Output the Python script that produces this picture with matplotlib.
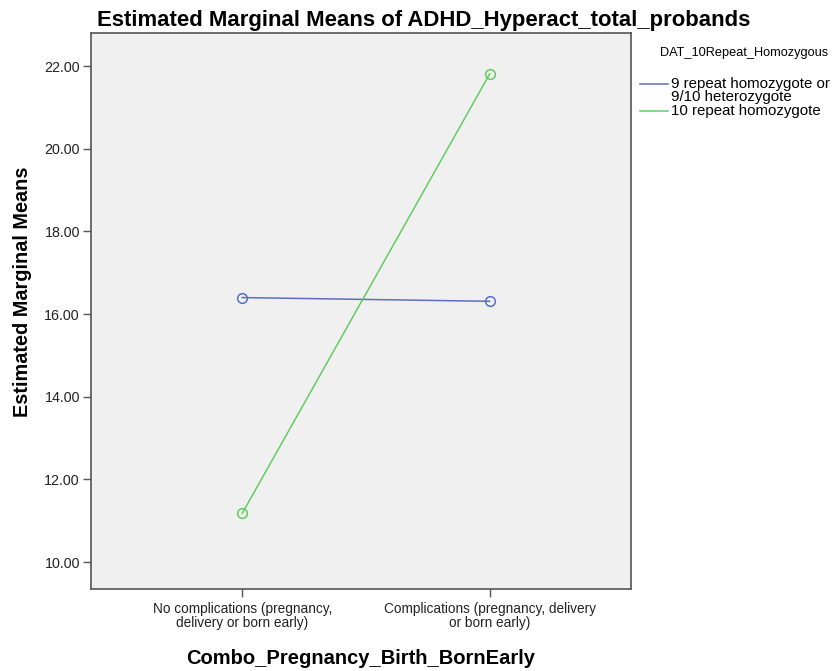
import matplotlib
matplotlib.use("Agg")
import matplotlib.pyplot as plt
from matplotlib.lines import Line2D

plt.rcParams['font.family'] = ['Liberation Sans', 'DejaVu Sans']

# categories on the x axis and the two group means
categories = ['No complications (pregnancy,\ndelivery or born early)',
              'Complications (pregnancy, delivery\nor born early)']
groups = ['9 repeat homozygote or\n9/10 heterozygote', '10 repeat homozygote']
means_9rep = [16.40, 16.31]
means_10rep = [11.18, 21.81]
yticks = [10, 12, 14, 16, 18, 20, 22]

colors = ['#5a6ec4', '#62cc62']

fig = plt.figure(figsize=(8.32, 6.71), dpi=100)
ax = fig.add_axes([0.1094, 0.1222, 0.649, 0.8286])
ax.set_facecolor('#f0f0f0')

xpos = list(range(len(categories)))
for vals, c in zip([means_9rep, means_10rep], colors):
    ax.plot(xpos, vals, color=c, lw=1.1, marker='o', markersize=7,
            markerfacecolor='none', markeredgecolor=c, markeredgewidth=1.1)

ax.set_xlim(-0.611, 1.571)
ax.set_ylim(9.35, 22.80)
ax.set_xticks(xpos)
ax.set_xticklabels(categories, fontsize=9.8, color='#222222', linespacing=0.95)
ax.set_yticks(yticks)
ax.set_yticklabels([f'{v:.2f}' for v in yticks], fontsize=10.3, color='#222222')
ax.tick_params(direction='out', length=6, width=1, color='#555555')
ax.tick_params(axis='y', pad=2)
for s in ax.spines.values():
    s.set_color('#555555')
    s.set_linewidth(1.2)

ax.set_xlabel('Combo_Pregnancy_Birth_BornEarly', fontsize=14.5, fontweight='bold', labelpad=14)
ax.set_ylabel('Estimated Marginal Means', fontsize=14.3, fontweight='bold')
ax.yaxis.set_label_coords(-0.109, 0.535)
fig.text(0.509, 0.970, 'Estimated Marginal Means of ADHD_Hyperact_total_probands',
         ha='center', va='center', fontsize=15.9, fontweight='bold')

# legend drawn by hand to match the SPSS layout
fig.text(660 / 832, 1 - 53 / 671, 'DAT_10Repeat_Homozygous', fontsize=9.2,
         ha='left', va='center')
leg_y = [84, 111]
for lab, c, yy in zip(groups, colors, leg_y):
    yf = 1 - yy / 671
    fig.add_artist(Line2D([640 / 832, 668 / 832], [yf, yf], color=c, lw=1.1))
    fig.text(671 / 832, yf + 7 / 671, lab, fontsize=10.8, ha='left', va='top',
             linespacing=0.9)

fig.savefig('out.png', dpi=100)
